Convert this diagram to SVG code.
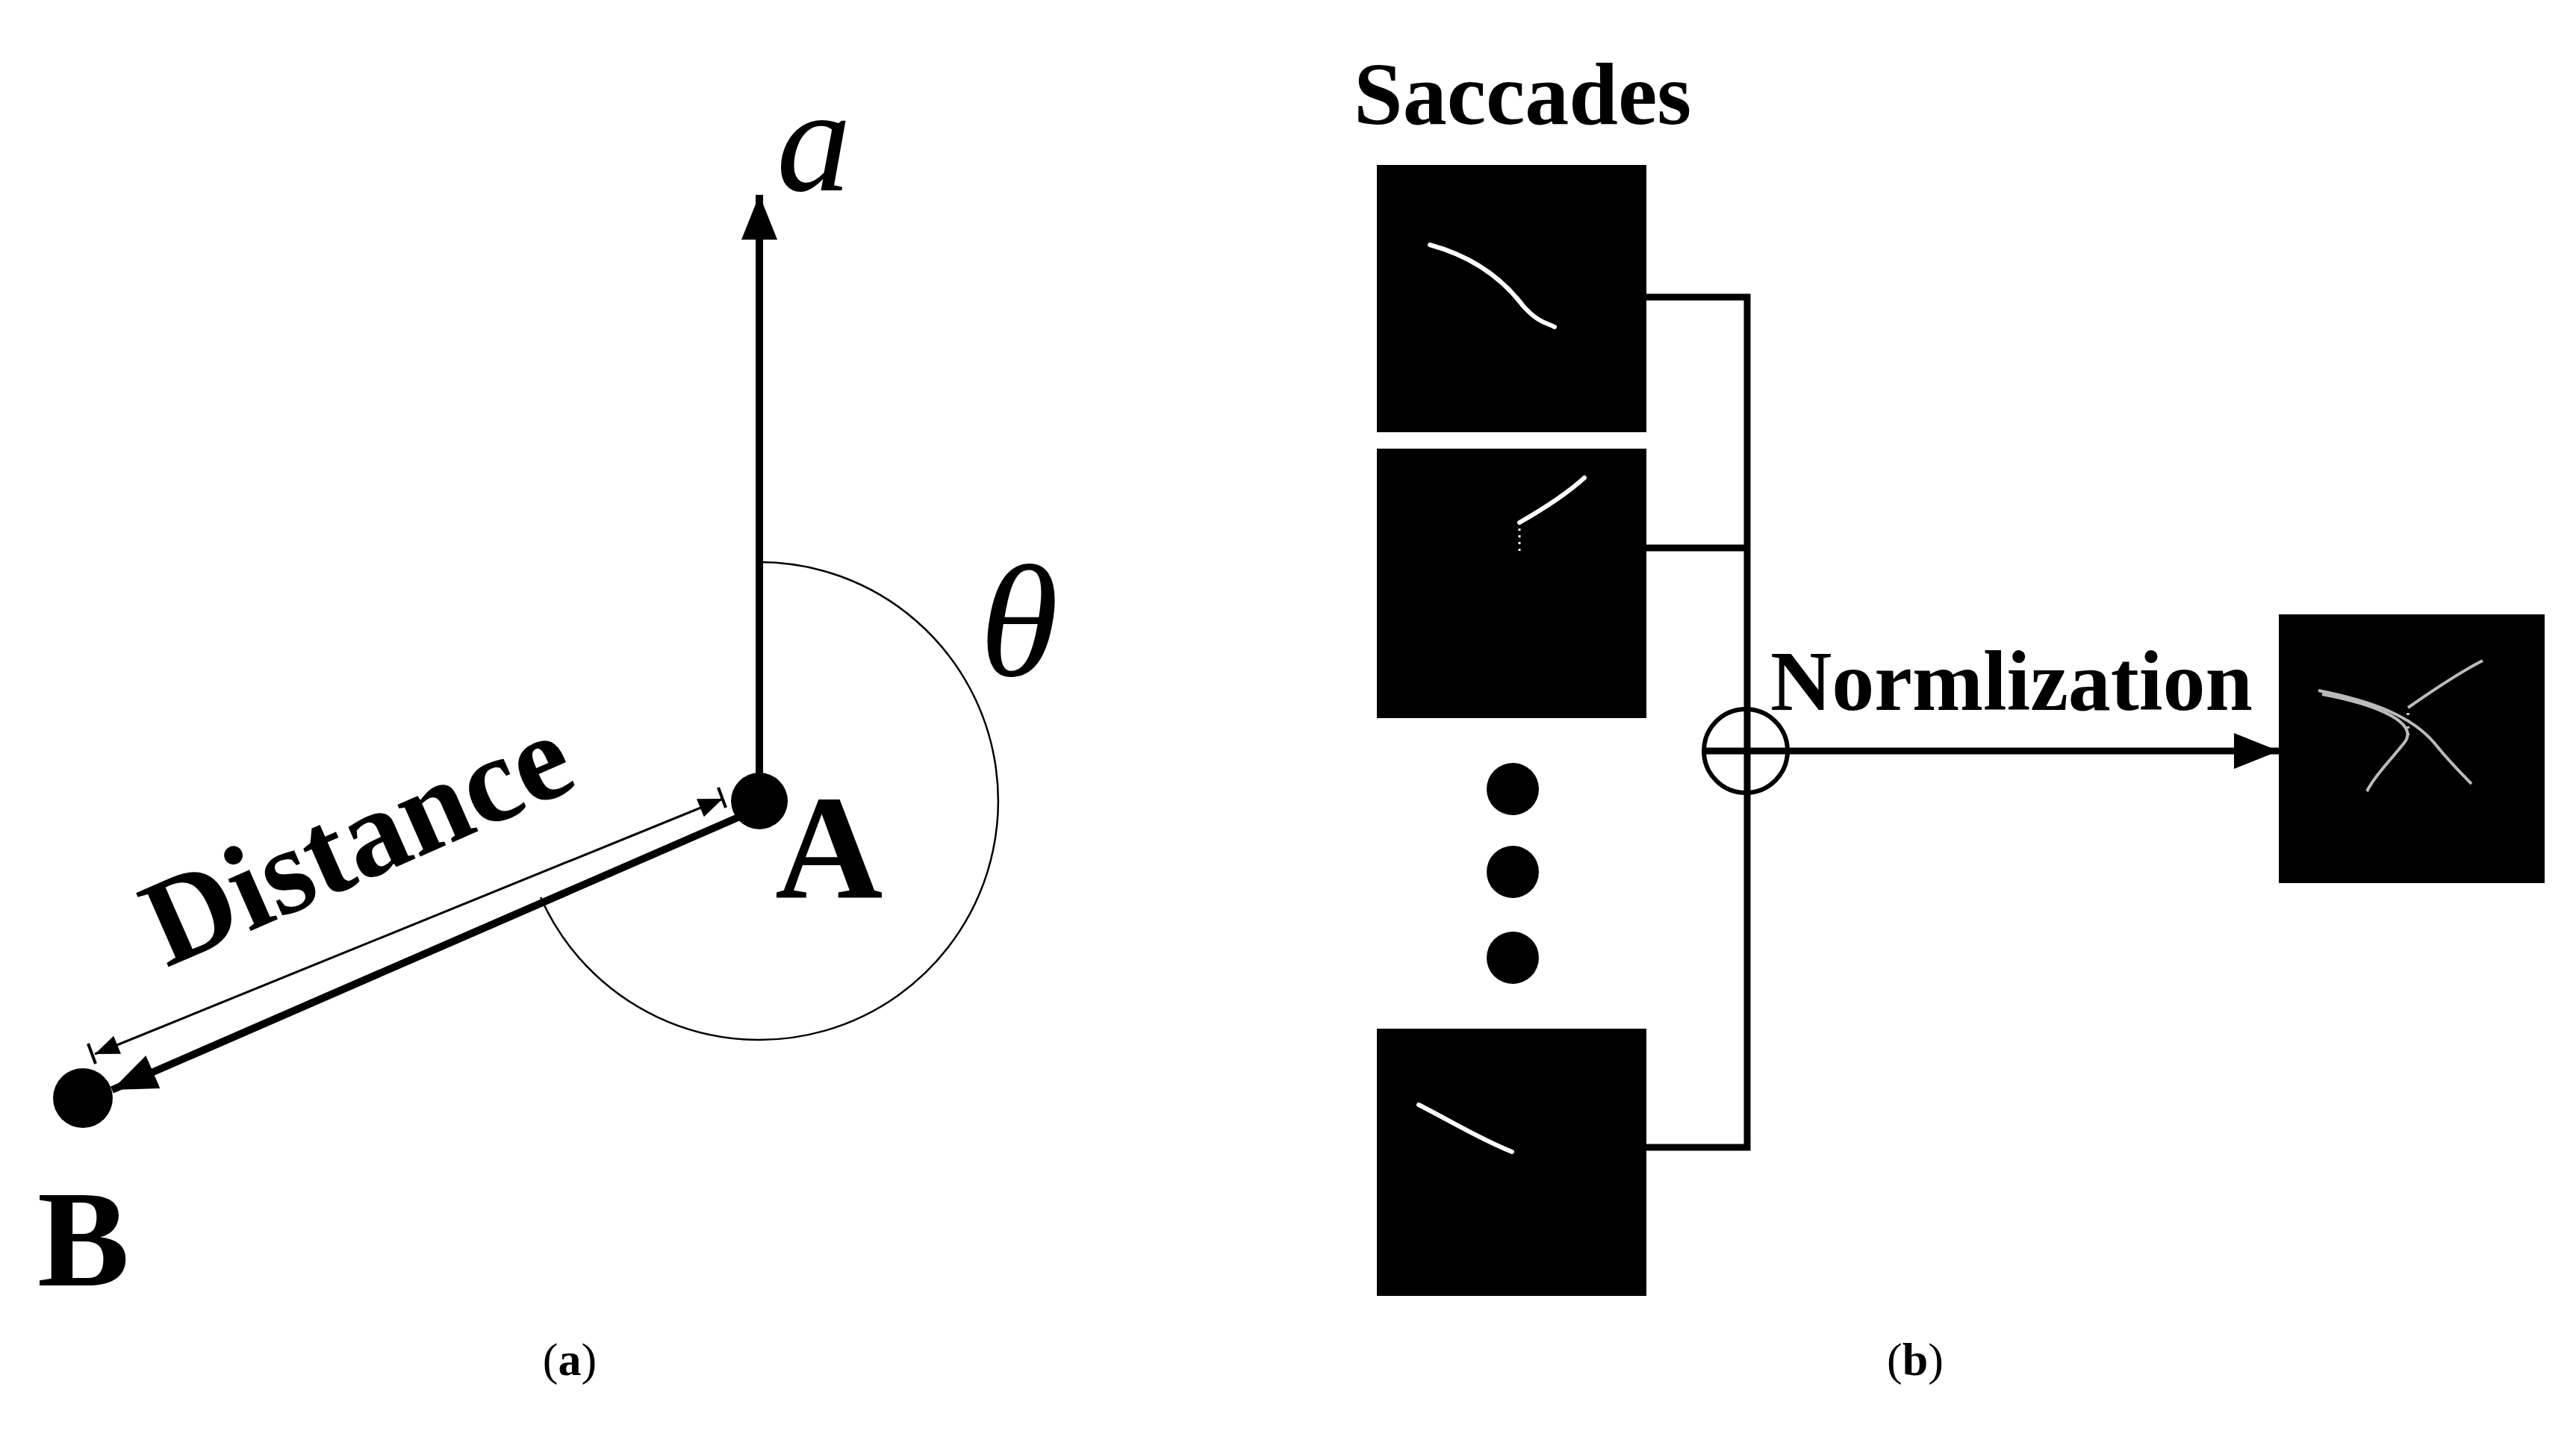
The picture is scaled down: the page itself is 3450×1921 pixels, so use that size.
<svg xmlns="http://www.w3.org/2000/svg" width="3450" height="1921" viewBox="0 0 3450 1921">
<style>
.b{font-family:"Liberation Serif",serif;font-weight:bold;fill:#000}
.cap{font-family:"Liberation Serif",serif;font-size:62px;fill:#000}
.img{fill:#000}
.tr{fill:none;stroke:#fff;stroke-width:6;stroke-linecap:round;stroke-linejoin:round}
.ln{fill:none;stroke:#000;stroke-width:9}
</style>
<defs>
<marker id="ah" viewBox="0 0 10 8" refX="10" refY="4" markerWidth="60" markerHeight="48" orient="auto" markerUnits="userSpaceOnUse"><path d="M0,0L10,4L0,8z" fill="#000"/></marker>
<marker id="sm" viewBox="0 0 10 8" refX="10" refY="4" markerWidth="36" markerHeight="26" orient="auto-start-reverse" markerUnits="userSpaceOnUse"><path d="M0,0L10,4L0,8z" fill="#000"/></marker>
</defs>
<rect width="3450" height="1921" fill="#fff"/>
<g id="connectors">
<line x1="1017" y1="1073" x2="1017" y2="261" stroke="#000" stroke-width="10" marker-end="url(#ah)"/>
<path d="M1017,753 A320,320 0 1,1 724,1202" fill="none" stroke="#000" stroke-width="2.5"/>
<line x1="1000" y1="1090" x2="150" y2="1460" stroke="#000" stroke-width="10" marker-end="url(#ah)"/>
<line x1="968" y1="1070" x2="127" y2="1412" stroke="#000" stroke-width="3" marker-start="url(#sm)" marker-end="url(#sm)"/>
<line x1="962" y1="1055" x2="972" y2="1082" stroke="#000" stroke-width="4"/>
<line x1="118" y1="1398" x2="128" y2="1425" stroke="#000" stroke-width="4"/>
<polyline class="ln" points="2205,398 2340,398 2340,1537 2205,1537"/>
<line class="ln" x1="2205" y1="734" x2="2340" y2="734"/>
<circle cx="2338" cy="1006" r="56" fill="none" stroke="#000" stroke-width="6"/>
<line class="ln" x1="2282" y1="1006" x2="3052" y2="1006" marker-end="url(#ah)"/>
</g>
<g id="axis-label"><text x="1040" y="255" font-family="Liberation Serif,serif" font-style="italic" font-size="200">a</text></g>
<g id="theta"><text x="1312" y="905" font-family="Liberation Serif,serif" font-style="italic" font-size="215">θ</text></g>
<g id="A"><circle cx="1017" cy="1073" r="38"/><text class="b" x="1038" y="1203" font-size="200">A</text></g>
<g id="B"><circle cx="111" cy="1471" r="40"/><text class="b" x="50" y="1722" font-size="185">B</text></g>
<g id="distance"><text class="b" font-size="165" text-anchor="middle" transform="translate(500,1175) rotate(-23.7)">Distance</text></g>
<text class="cap" x="763" y="1842" text-anchor="middle">(<tspan font-weight="bold">a</tspan>)</text>
<g id="saccades-title"><text class="b" x="1813" y="166" font-size="118">Saccades</text></g>
<g id="img1"><rect class="img" x="1844" y="221" width="361" height="358"/><path class="tr" d="M1915,328 C1970,343 2010,370 2040,410 C2060,432 2070,432 2082,438"/></g>
<g id="img2"><rect class="img" x="1844" y="601" width="361" height="361"/><path class="tr" d="M2035,700 C2070,680 2100,660 2122,640"/><path d="M2035,708 V740" stroke="#fff" stroke-width="3" stroke-dasharray="3,6"/></g>
<g id="dots"><circle cx="2026" cy="1057" r="35"/><circle cx="2026" cy="1168" r="35"/><circle cx="2026" cy="1283" r="35"/></g>
<g id="img3"><rect class="img" x="1844" y="1378" width="361" height="358"/><path class="tr" d="M1900,1480 C1940,1500 1980,1525 2025,1543"/></g>
<g id="norm-label"><text class="b" x="2371" y="951" font-size="114">Normlization</text></g>
<g id="output"><rect class="img" x="3052" y="823" width="356" height="360"/>
<g fill="none" stroke="#bbb" stroke-width="4"><path d="M3105,925 C3180,940 3230,960 3260,995 C3280,1020 3295,1035 3310,1050"/><path d="M3110,930 C3190,945 3240,970 3220,995 C3200,1020 3180,1040 3170,1060"/><path d="M3225,948 C3265,920 3295,900 3325,885"/><path d="M3225,955 V990" stroke-dasharray="3,6"/></g></g>
<text class="cap" x="2565" y="1842" text-anchor="middle">(<tspan font-weight="bold">b</tspan>)</text>
</svg>
